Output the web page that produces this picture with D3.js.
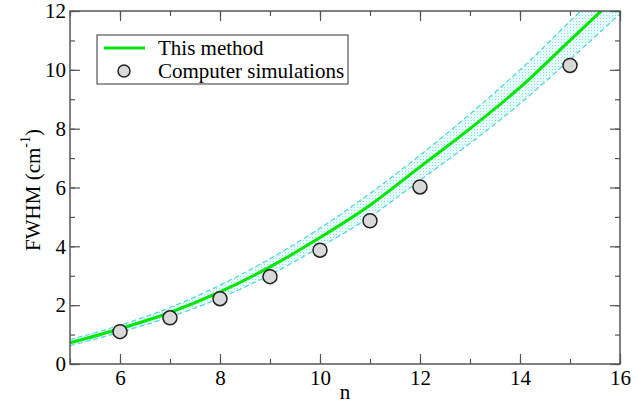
<!DOCTYPE html>
<html><head><meta charset="utf-8">
<script src="https://cdn.jsdelivr.net/npm/d3@7"></script>
<style>body{margin:0;background:#fff}svg{display:block}svg text{font-family:"Liberation Serif","Times New Roman",serif !important}</style>
</head><body>
<svg id="c" width="637" height="403"></svg>
<script>
const methodN = [5,6,7,8,9,10,11,12,13,14,15,16];
const methodFWHM = [0.72,1.2,1.75,2.45,3.3,4.3,5.4,6.7,8.0,9.4,11.0,12.6];
const upperFWHM = [0.83,1.32,1.92,2.68,3.58,4.62,5.8,7.1,8.5,10.0,11.65,13.3];
const lowerFWHM = [0.62,1.08,1.6,2.24,3.03,3.98,5.0,6.25,7.5,8.85,10.35,11.9];
const simN = [6,7,8,9,10,11,12,15];
const simFWHM = [1.1,1.57,2.22,2.97,3.87,4.87,6.02,10.15];
const xTicks = [6,8,10,12,14,16];
const yTicks = [0,2,4,6,8,10,12];

const svg = d3.select("#c");
const L=70,R=620,T=11,B=364;
const x = d3.scaleLinear().domain([5,16]).range([L,R]);
const y = d3.scaleLinear().domain([0,12]).range([B,T]);
const FS = 21;

const defs = svg.append("defs");
defs.append("clipPath").attr("id","clip").append("rect").attr("x",L).attr("y",T).attr("width",R-L).attr("height",B-T);
const pat = defs.append("pattern").attr("id","dots").attr("width",3).attr("height",3).attr("patternUnits","userSpaceOnUse");
pat.append("rect").attr("width",3).attr("height",3).attr("fill","#e6fafa");
pat.append("rect").attr("width",1).attr("height",1).attr("fill","#8fe2e2");

const g = svg.append("g").attr("clip-path","url(#clip)");
const band = methodN.map((n,i)=>({n,u:upperFWHM[i],l:lowerFWHM[i]}));
g.append("path").datum(band).attr("fill","url(#dots)")
 .attr("d", d3.area().x(d=>x(d.n)).y0(d=>y(d.l)).y1(d=>y(d.u)).curve(d3.curveMonotoneX));
[upperFWHM,lowerFWHM].forEach(arr=>{
  g.append("path").datum(methodN.map((n,i)=>[n,arr[i]])).attr("fill","none")
   .attr("stroke","#4fd6d6").attr("stroke-width",1.2).attr("stroke-dasharray","5,3")
   .attr("d", d3.line().x(d=>x(d[0])).y(d=>y(d[1])).curve(d3.curveMonotoneX));
});
g.append("path").datum(methodN.map((n,i)=>[n,methodFWHM[i]])).attr("fill","none")
 .attr("stroke","#00e600").attr("stroke-width",3)
 .attr("d", d3.line().x(d=>x(d[0])).y(d=>y(d[1])).curve(d3.curveMonotoneX));

svg.append("g").selectAll("circle").data(simN.map((n,i)=>[n,simFWHM[i]])).join("circle")
 .attr("cx",d=>x(d[0])).attr("cy",d=>y(d[1])).attr("r",7)
 .attr("fill","#d9d9d9").attr("stroke","#222").attr("stroke-width",1.5);

svg.append("rect").attr("x",L).attr("y",T).attr("width",R-L).attr("height",B-T)
 .attr("fill","none").attr("stroke","#555").attr("stroke-width",1.5);

const axStyle = sel=>{sel.attr("font-family",null).attr("font-size",null);
  sel.select(".domain").remove(); sel.selectAll("line").attr("stroke","#555").attr("stroke-width",1.2);
  sel.selectAll("text").attr("font-size",FS).attr("fill","#000");};
const xMinor = d3.range(5,17);
const yMinor = d3.range(0,13);
svg.append("g").attr("transform",`translate(0,${B})`).call(d3.axisBottom(x).tickValues(xMinor).tickSize(-5).tickFormat("")).call(axStyle);
svg.append("g").attr("transform",`translate(0,${B})`).call(d3.axisBottom(x).tickValues(xTicks).tickSize(-10).tickPadding(6).tickFormat(d3.format("d"))).call(axStyle);
svg.append("g").attr("transform",`translate(0,${T})`).call(d3.axisTop(x).tickValues(xMinor).tickSize(-5).tickFormat("")).call(axStyle);
svg.append("g").attr("transform",`translate(0,${T})`).call(d3.axisTop(x).tickValues(xTicks).tickSize(-10).tickFormat("")).call(axStyle);
svg.append("g").attr("transform",`translate(${L},0)`).call(d3.axisLeft(y).tickValues(yMinor).tickSize(-5).tickFormat("")).call(axStyle);
svg.append("g").attr("transform",`translate(${L},0)`).call(d3.axisLeft(y).tickValues(yTicks).tickSize(-10).tickPadding(4).tickFormat(d3.format("d"))).call(axStyle);
svg.append("g").attr("transform",`translate(${R},0)`).call(d3.axisRight(y).tickValues(yMinor).tickSize(-5).tickFormat("")).call(axStyle);
svg.append("g").attr("transform",`translate(${R},0)`).call(d3.axisRight(y).tickValues(yTicks).tickSize(-10).tickFormat("")).call(axStyle);

svg.append("text").attr("x",(L+R)/2).attr("y",399).attr("text-anchor","middle")
 .attr("font-size",FS).text("n");
const yl = svg.append("text").attr("transform",`translate(40,190) rotate(-90)`).attr("text-anchor","middle")
 .attr("font-size",FS);
yl.append("tspan").text("FWHM (cm");
yl.append("tspan").attr("dy",-10).attr("font-size",14).text("-1");
yl.append("tspan").attr("dy",10).text(")");

const lg = svg.append("g");
lg.append("rect").attr("x",97).attr("y",35).attr("width",251).attr("height",49)
 .attr("fill","#fff").attr("stroke","#555").attr("stroke-width",1.2);
lg.append("line").attr("x1",104).attr("x2",145).attr("y1",48).attr("y2",48).attr("stroke","#00e600").attr("stroke-width",3);
lg.append("circle").attr("cx",124).attr("cy",71).attr("r",6).attr("fill","#d9d9d9").attr("stroke","#222").attr("stroke-width",1.5);
lg.append("text").attr("x",158).attr("y",55).attr("font-size",FS).text("This method");
lg.append("text").attr("x",158).attr("y",78).attr("font-size",FS).text("Computer simulations");
</script>
</body></html>
